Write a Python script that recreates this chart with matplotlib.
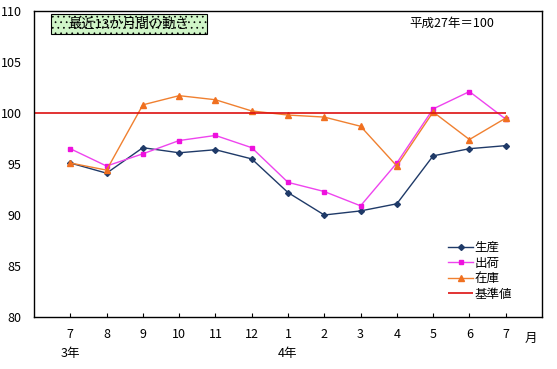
import matplotlib
matplotlib.use("Agg")
import matplotlib.pyplot as plt
from matplotlib.patches import Rectangle

plt.rcParams['font.family'] = ['Noto Sans CJK JP', 'DejaVu Sans']
plt.rcParams['hatch.color'] = '#7ad37a'
plt.rcParams['hatch.linewidth'] = 0.5

# months shown on the x axis (R3.7 - R4.7)
months = ['7', '8', '9', '10', '11', '12', '1', '2', '3', '4', '5', '6', '7']
years = {0: '3年', 6: '4年'}

# indices (H27 = 100)
production = [95.1, 94.1, 96.6, 96.1, 96.4, 95.5, 92.2, 90.0, 90.4, 91.1, 95.8, 96.5, 96.8]
shipments = [96.5, 94.8, 96.0, 97.3, 97.8, 96.6, 93.2, 92.3, 90.9, 95.1, 100.4, 102.1, 99.4]
inventory = [95.1, 94.4, 100.8, 101.7, 101.3, 100.2, 99.8, 99.6, 98.7, 94.8, 100.1, 97.4, 99.5]
base_value = 100

fig = plt.figure(figsize=(5.57, 3.69), dpi=100)
ax = fig.add_axes([34/557, 1 - 317/369, (542-34)/557, (317-11)/369])

x = list(range(len(months)))
ax.plot(x, production, color='#1f3a68', lw=1, marker='D', ms=3, label='生産')
ax.plot(x, shipments, color='#ee44ee', lw=1, marker='s', ms=3.5, mfc='#ee11dd', mec='#ee11dd', label='出荷')
ax.plot(x, inventory, color='#f08030', lw=1, marker='^', ms=4, mfc='#f07020', mec='#f07020', label='在庫')
ax.hlines(base_value, -1, x[-1], color='#dd1111', lw=1.2, label='基準値')

ax.set_xlim(-1, len(months))
ax.set_ylim(80, 110)
ax.set_yticks(range(80, 111, 5))
ax.set_xticks(x)
ax.set_xticklabels(months)
ax.tick_params(axis='x', direction='in', length=3, pad=8, labelsize=9)
ax.tick_params(axis='y', length=0, pad=9, labelsize=9)
for s in ax.spines.values():
    s.set_linewidth(1)

# year labels below the month ticks
for i, label in years.items():
    ax.text(i, -0.12, label, transform=ax.get_xaxis_transform(), ha='center', va='center', fontsize=9)
ax.text(len(months) - 0.3, -0.07, '月', transform=ax.get_xaxis_transform(), ha='center', va='center', fontsize=9)

# title box
box = Rectangle((51/557, 1 - 34/369), (207-51)/557, 20/369, transform=fig.transFigure,
                facecolor='#d0f5c8', edgecolor='black', lw=0.8, hatch='...')
fig.patches.append(box)
fig.text(129/557, 1 - 24/369, '最近13か月間の動き', ha='center', va='center', fontsize=9.5)
fig.text(452/557, 1 - 23/369, '平成27年＝100', ha='center', va='center', fontsize=9)

leg = ax.legend(loc='upper left', bbox_to_anchor=((442-34)/508, (317-235)/306), frameon=False,
                fontsize=9, handlelength=2.0, handletextpad=0.1, labelspacing=0.2, borderpad=0)

fig.savefig('out.png', dpi=100)
